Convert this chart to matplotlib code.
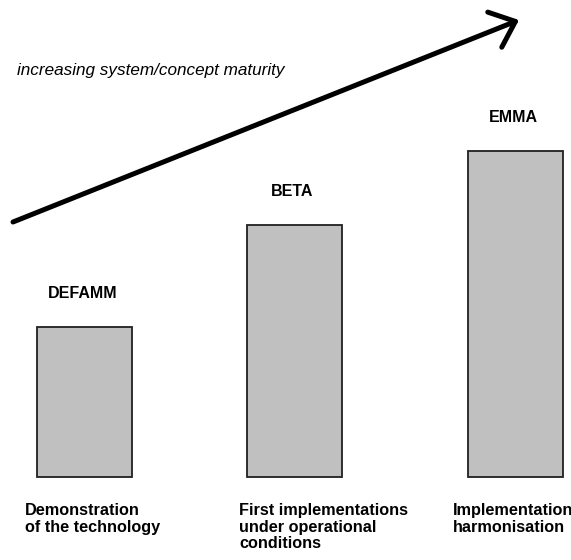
import matplotlib.pyplot as plt

# data
stages = ['DEFAMM', 'BETA', 'EMMA']
maturity = [150, 252, 326]
captions = ['Demonstration\nof the technology',
            'First implementations\nunder operational\nconditions',
            'Implementation\nharmonisation']

# layout (pixel-like units)
x_pos = [84.5, 294.5, 515.5]
caption_x = [25, 239, 453]

plt.rcParams['font.family'] = ['Liberation Sans', 'DejaVu Sans']

fig = plt.figure(figsize=(5.71, 5.60), dpi=100)
ax = fig.add_axes([0, 0, 1, 1])
ax.set_xlim(0, 571)
ax.set_ylim(-83, 477)
ax.axis('off')

ax.bar(x_pos, maturity, width=95, color='#c0c0c0', edgecolor='#202020', linewidth=1.3)

for x, h, name in zip(x_pos, maturity, stages):
    ax.text(x - 2, h + 33, name, ha='center', va='center', fontsize=11.5, fontweight='bold')

for x, cap in zip(caption_x, captions):
    ax.text(x, -26, cap, ha='left', va='top', fontsize=11.7, fontweight='bold',
            linespacing=1.13, clip_on=False)

# arrow of increasing maturity
ax.annotate('', xy=(519, 457), xytext=(13, 255),
            arrowprops=dict(arrowstyle='->,head_length=0.8,head_width=0.68',
                            mutation_scale=20, lw=3.6, color='black',
                            shrinkA=0, shrinkB=0, capstyle='round'))
ax.text(17, 407, 'increasing system/concept maturity', ha='left', va='center',
        fontsize=12.3, fontstyle='italic')

fig.savefig('out.png', dpi=100)
